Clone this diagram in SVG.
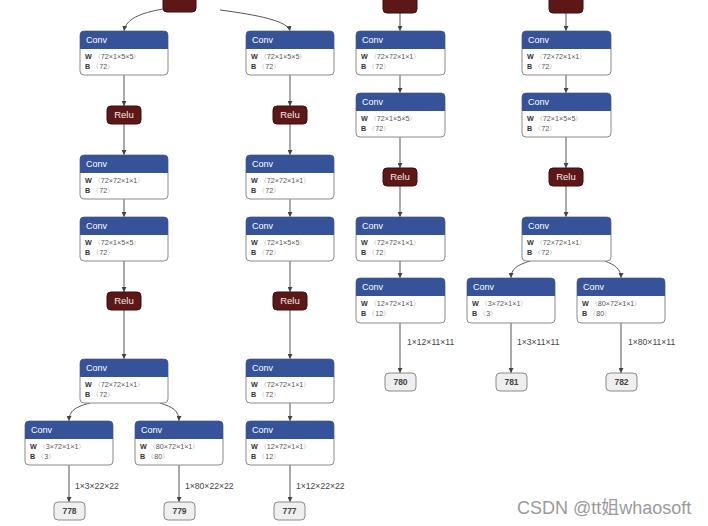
<svg xmlns="http://www.w3.org/2000/svg" width="708" height="526" viewBox="0 0 708 526">
<style>
.box{fill:#fff;stroke:#8a8a8a;stroke-width:1}
.hdr{fill:#36539a}
.ht{font-family:"Liberation Sans",Arial,sans-serif;font-size:9px;fill:#fff}
.bt{font-family:"Liberation Sans",Arial,sans-serif;font-size:7.2px;fill:#555}
.bk{font-weight:bold;fill:#333}
.relu{fill:#5e1717;stroke:#3a0c0c;stroke-width:1}
.rt{font-family:"Liberation Sans",Arial,sans-serif;font-size:9.5px;fill:#f4eaea;text-anchor:middle}
.out{fill:#efefef;stroke:#8a8a8a;stroke-width:1}
.ot{font-family:"Liberation Sans",Arial,sans-serif;font-size:8.5px;fill:#444;text-anchor:middle;font-weight:bold}
.e{fill:none;stroke:#555;stroke-width:1;marker-end:url(#ar)}
.el{font-family:"Liberation Sans",Arial,sans-serif;font-size:8.6px;fill:#444}
.wm{font-family:"Liberation Sans","Noto Sans CJK SC",sans-serif;font-size:18px;fill:#9a9a9a}
</style>
<defs>
<marker id="ar" viewBox="0 0 6 6" refX="6" refY="3" markerWidth="5" markerHeight="5" markerUnits="userSpaceOnUse" orient="auto">
<path d="M0,0 L6,3 L0,6 z" fill="#444"/>
</marker>
</defs>
<rect width="708" height="526" fill="#fff"/>

<g id="connectors">
<path class="e" d="M163,9 C140,13 126,19 124,31"/>
<path class="e" d="M220,10 C258,15 288,21 290,31"/>
<path class="e" d="M124,75 V106"/>
<path class="e" d="M124,124 V155"/>
<path class="e" d="M124,199 V217"/>
<path class="e" d="M124,261 V292"/>
<path class="e" d="M124,310 V359"/>
<path class="e" d="M90,403 C75,407 69,411 69,421"/>
<path class="e" d="M160,403 C173,407 179,411 179,421"/>
<path class="e" d="M69,465 V502"/>
<path class="e" d="M179,465 V502"/>
<path class="e" d="M290,75 V106"/>
<path class="e" d="M290,124 V155"/>
<path class="e" d="M290,199 V217"/>
<path class="e" d="M290,261 V292"/>
<path class="e" d="M290,310 V359"/>
<path class="e" d="M290,403 V421"/>
<path class="e" d="M290,465 V502"/>
<path class="e" d="M400,13 V31"/>
<path class="e" d="M400,75 V93"/>
<path class="e" d="M400,137 V168"/>
<path class="e" d="M400,186 V217"/>
<path class="e" d="M400,261 V278"/>
<path class="e" d="M400,323 V373"/>
<path class="e" d="M566,13 V31"/>
<path class="e" d="M566,75 V93"/>
<path class="e" d="M566,137 V168"/>
<path class="e" d="M566,186 V217"/>
<path class="e" d="M530,261 C517,265 511,269 511,278"/>
<path class="e" d="M605,261 C615,265 621,269 621,278"/>
<path class="e" d="M511,323 V373"/>
<path class="e" d="M621,323 V373"/>
<text class="el" x="75" y="489">1×3×22×22</text>
<text class="el" x="185" y="489">1×80×22×22</text>
<text class="el" x="296" y="489">1×12×22×22</text>
<text class="el" x="407" y="345">1×12×11×11</text>
<text class="el" x="517" y="345">1×3×11×11</text>
<text class="el" x="628" y="345">1×80×11×11</text>
</g>

<!-- column 1 -->
<g id="relu_top1"><rect class="relu" x="163" y="-9" width="33" height="21" rx="4"/></g>
<g id="conv_c1_1" transform="translate(80,31)"><rect class="box" width="88" height="44" rx="4"/><path class="hdr" d="M4,0 H84 A4,4 0 0 1 88,4 V18 H0 V4 A4,4 0 0 1 4,0 z"/><text class="ht" x="6" y="12">Conv</text><text class="bt" x="5" y="28"><tspan class="bk">W</tspan> 〈72×1×5×5〉</text><text class="bt" x="5" y="38"><tspan class="bk">B</tspan> 〈72〉</text></g>
<g id="relu_c1_1"><rect class="relu" x="107" y="106" width="34" height="18" rx="4"/><text class="rt" x="124" y="118">Relu</text></g>
<g id="conv_c1_2" transform="translate(80,155)"><rect class="box" width="88" height="44" rx="4"/><path class="hdr" d="M4,0 H84 A4,4 0 0 1 88,4 V18 H0 V4 A4,4 0 0 1 4,0 z"/><text class="ht" x="6" y="12">Conv</text><text class="bt" x="5" y="28"><tspan class="bk">W</tspan> 〈72×72×1×1〉</text><text class="bt" x="5" y="38"><tspan class="bk">B</tspan> 〈72〉</text></g>
<g id="conv_c1_3" transform="translate(80,217)"><rect class="box" width="88" height="44" rx="4"/><path class="hdr" d="M4,0 H84 A4,4 0 0 1 88,4 V18 H0 V4 A4,4 0 0 1 4,0 z"/><text class="ht" x="6" y="12">Conv</text><text class="bt" x="5" y="28"><tspan class="bk">W</tspan> 〈72×1×5×5〉</text><text class="bt" x="5" y="38"><tspan class="bk">B</tspan> 〈72〉</text></g>
<g id="relu_c1_2"><rect class="relu" x="107" y="292" width="34" height="18" rx="4"/><text class="rt" x="124" y="304">Relu</text></g>
<g id="conv_c1_4" transform="translate(80,359)"><rect class="box" width="88" height="44" rx="4"/><path class="hdr" d="M4,0 H84 A4,4 0 0 1 88,4 V18 H0 V4 A4,4 0 0 1 4,0 z"/><text class="ht" x="6" y="12">Conv</text><text class="bt" x="5" y="28"><tspan class="bk">W</tspan> 〈72×72×1×1〉</text><text class="bt" x="5" y="38"><tspan class="bk">B</tspan> 〈72〉</text></g>
<g id="conv_c1_5" transform="translate(25,421)"><rect class="box" width="88" height="44" rx="4"/><path class="hdr" d="M4,0 H84 A4,4 0 0 1 88,4 V18 H0 V4 A4,4 0 0 1 4,0 z"/><text class="ht" x="6" y="12">Conv</text><text class="bt" x="5" y="28"><tspan class="bk">W</tspan> 〈3×72×1×1〉</text><text class="bt" x="5" y="38"><tspan class="bk">B</tspan> 〈3〉</text></g>
<g id="conv_c1_6" transform="translate(135,421)"><rect class="box" width="88" height="44" rx="4"/><path class="hdr" d="M4,0 H84 A4,4 0 0 1 88,4 V18 H0 V4 A4,4 0 0 1 4,0 z"/><text class="ht" x="6" y="12">Conv</text><text class="bt" x="5" y="28"><tspan class="bk">W</tspan> 〈80×72×1×1〉</text><text class="bt" x="5" y="38"><tspan class="bk">B</tspan> 〈80〉</text></g>
<g id="out_778"><rect class="out" x="54" y="502" width="31" height="18" rx="4"/><text class="ot" x="69.5" y="514">778</text></g>
<g id="out_779"><rect class="out" x="164" y="502" width="31" height="18" rx="4"/><text class="ot" x="179.5" y="514">779</text></g>

<!-- column 2 -->
<g id="conv_c2_1" transform="translate(246,31)"><rect class="box" width="88" height="44" rx="4"/><path class="hdr" d="M4,0 H84 A4,4 0 0 1 88,4 V18 H0 V4 A4,4 0 0 1 4,0 z"/><text class="ht" x="6" y="12">Conv</text><text class="bt" x="5" y="28"><tspan class="bk">W</tspan> 〈72×1×5×5〉</text><text class="bt" x="5" y="38"><tspan class="bk">B</tspan> 〈72〉</text></g>
<g id="relu_c2_1"><rect class="relu" x="273" y="106" width="34" height="18" rx="4"/><text class="rt" x="290" y="118">Relu</text></g>
<g id="conv_c2_2" transform="translate(246,155)"><rect class="box" width="88" height="44" rx="4"/><path class="hdr" d="M4,0 H84 A4,4 0 0 1 88,4 V18 H0 V4 A4,4 0 0 1 4,0 z"/><text class="ht" x="6" y="12">Conv</text><text class="bt" x="5" y="28"><tspan class="bk">W</tspan> 〈72×72×1×1〉</text><text class="bt" x="5" y="38"><tspan class="bk">B</tspan> 〈72〉</text></g>
<g id="conv_c2_3" transform="translate(246,217)"><rect class="box" width="88" height="44" rx="4"/><path class="hdr" d="M4,0 H84 A4,4 0 0 1 88,4 V18 H0 V4 A4,4 0 0 1 4,0 z"/><text class="ht" x="6" y="12">Conv</text><text class="bt" x="5" y="28"><tspan class="bk">W</tspan> 〈72×1×5×5〉</text><text class="bt" x="5" y="38"><tspan class="bk">B</tspan> 〈72〉</text></g>
<g id="relu_c2_2"><rect class="relu" x="273" y="292" width="34" height="18" rx="4"/><text class="rt" x="290" y="304">Relu</text></g>
<g id="conv_c2_4" transform="translate(246,359)"><rect class="box" width="88" height="44" rx="4"/><path class="hdr" d="M4,0 H84 A4,4 0 0 1 88,4 V18 H0 V4 A4,4 0 0 1 4,0 z"/><text class="ht" x="6" y="12">Conv</text><text class="bt" x="5" y="28"><tspan class="bk">W</tspan> 〈72×72×1×1〉</text><text class="bt" x="5" y="38"><tspan class="bk">B</tspan> 〈72〉</text></g>
<g id="conv_c2_5" transform="translate(246,421)"><rect class="box" width="88" height="44" rx="4"/><path class="hdr" d="M4,0 H84 A4,4 0 0 1 88,4 V18 H0 V4 A4,4 0 0 1 4,0 z"/><text class="ht" x="6" y="12">Conv</text><text class="bt" x="5" y="28"><tspan class="bk">W</tspan> 〈12×72×1×1〉</text><text class="bt" x="5" y="38"><tspan class="bk">B</tspan> 〈12〉</text></g>
<g id="out_777"><rect class="out" x="274" y="502" width="31" height="18" rx="4"/><text class="ot" x="289.5" y="514">777</text></g>

<!-- column 3 -->
<g id="relu_top3"><rect class="relu" x="383" y="-9" width="34" height="22" rx="4"/></g>
<g id="conv_c3_1" transform="translate(356,31)"><rect class="box" width="89" height="44" rx="4"/><path class="hdr" d="M4,0 H85 A4,4 0 0 1 89,4 V18 H0 V4 A4,4 0 0 1 4,0 z"/><text class="ht" x="6" y="12">Conv</text><text class="bt" x="5" y="28"><tspan class="bk">W</tspan> 〈72×72×1×1〉</text><text class="bt" x="5" y="38"><tspan class="bk">B</tspan> 〈72〉</text></g>
<g id="conv_c3_2" transform="translate(356,93)"><rect class="box" width="89" height="44" rx="4"/><path class="hdr" d="M4,0 H85 A4,4 0 0 1 89,4 V18 H0 V4 A4,4 0 0 1 4,0 z"/><text class="ht" x="6" y="12">Conv</text><text class="bt" x="5" y="28"><tspan class="bk">W</tspan> 〈72×1×5×5〉</text><text class="bt" x="5" y="38"><tspan class="bk">B</tspan> 〈72〉</text></g>
<g id="relu_c3_1"><rect class="relu" x="383" y="168" width="34" height="18" rx="4"/><text class="rt" x="400" y="180">Relu</text></g>
<g id="conv_c3_3" transform="translate(356,217)"><rect class="box" width="89" height="44" rx="4"/><path class="hdr" d="M4,0 H85 A4,4 0 0 1 89,4 V18 H0 V4 A4,4 0 0 1 4,0 z"/><text class="ht" x="6" y="12">Conv</text><text class="bt" x="5" y="28"><tspan class="bk">W</tspan> 〈72×72×1×1〉</text><text class="bt" x="5" y="38"><tspan class="bk">B</tspan> 〈72〉</text></g>
<g id="conv_c3_4" transform="translate(356,278)"><rect class="box" width="89" height="45" rx="4"/><path class="hdr" d="M4,0 H85 A4,4 0 0 1 89,4 V18 H0 V4 A4,4 0 0 1 4,0 z"/><text class="ht" x="6" y="12">Conv</text><text class="bt" x="5" y="28"><tspan class="bk">W</tspan> 〈12×72×1×1〉</text><text class="bt" x="5" y="38"><tspan class="bk">B</tspan> 〈12〉</text></g>
<g id="out_780"><rect class="out" x="385" y="373" width="31" height="18" rx="4"/><text class="ot" x="400.5" y="385">780</text></g>

<!-- column 4 -->
<g id="relu_top4"><rect class="relu" x="549" y="-9" width="34" height="22" rx="4"/></g>
<g id="conv_c4_1" transform="translate(522,31)"><rect class="box" width="89" height="44" rx="4"/><path class="hdr" d="M4,0 H85 A4,4 0 0 1 89,4 V18 H0 V4 A4,4 0 0 1 4,0 z"/><text class="ht" x="6" y="12">Conv</text><text class="bt" x="5" y="28"><tspan class="bk">W</tspan> 〈72×72×1×1〉</text><text class="bt" x="5" y="38"><tspan class="bk">B</tspan> 〈72〉</text></g>
<g id="conv_c4_2" transform="translate(522,93)"><rect class="box" width="89" height="44" rx="4"/><path class="hdr" d="M4,0 H85 A4,4 0 0 1 89,4 V18 H0 V4 A4,4 0 0 1 4,0 z"/><text class="ht" x="6" y="12">Conv</text><text class="bt" x="5" y="28"><tspan class="bk">W</tspan> 〈72×1×5×5〉</text><text class="bt" x="5" y="38"><tspan class="bk">B</tspan> 〈72〉</text></g>
<g id="relu_c4_1"><rect class="relu" x="549" y="168" width="34" height="18" rx="4"/><text class="rt" x="566" y="180">Relu</text></g>
<g id="conv_c4_3" transform="translate(522,217)"><rect class="box" width="89" height="44" rx="4"/><path class="hdr" d="M4,0 H85 A4,4 0 0 1 89,4 V18 H0 V4 A4,4 0 0 1 4,0 z"/><text class="ht" x="6" y="12">Conv</text><text class="bt" x="5" y="28"><tspan class="bk">W</tspan> 〈72×72×1×1〉</text><text class="bt" x="5" y="38"><tspan class="bk">B</tspan> 〈72〉</text></g>
<g id="conv_c4_4" transform="translate(467,278)"><rect class="box" width="88" height="45" rx="4"/><path class="hdr" d="M4,0 H84 A4,4 0 0 1 88,4 V18 H0 V4 A4,4 0 0 1 4,0 z"/><text class="ht" x="6" y="12">Conv</text><text class="bt" x="5" y="28"><tspan class="bk">W</tspan> 〈3×72×1×1〉</text><text class="bt" x="5" y="38"><tspan class="bk">B</tspan> 〈3〉</text></g>
<g id="conv_c4_5" transform="translate(577,278)"><rect class="box" width="88" height="45" rx="4"/><path class="hdr" d="M4,0 H84 A4,4 0 0 1 88,4 V18 H0 V4 A4,4 0 0 1 4,0 z"/><text class="ht" x="6" y="12">Conv</text><text class="bt" x="5" y="28"><tspan class="bk">W</tspan> 〈80×72×1×1〉</text><text class="bt" x="5" y="38"><tspan class="bk">B</tspan> 〈80〉</text></g>
<g id="out_781"><rect class="out" x="496" y="373" width="31" height="18" rx="4"/><text class="ot" x="511.5" y="385">781</text></g>
<g id="out_782"><rect class="out" x="606" y="373" width="31" height="18" rx="4"/><text class="ot" x="621.5" y="385">782</text></g>

<text class="wm" x="517" y="514">CSDN @tt姐whaosoft</text>
</svg>
